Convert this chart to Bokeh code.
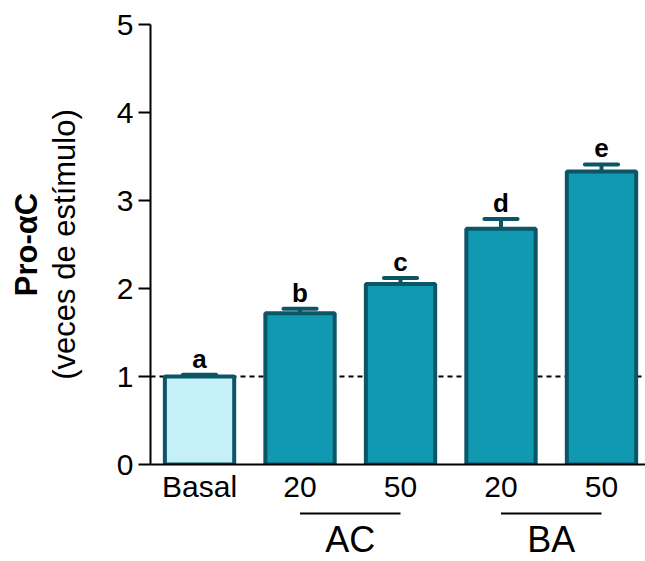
from bokeh.plotting import figure
from bokeh.models import Span, ColumnDataSource, Range1d, FixedTicker, LinearAxis
from bokeh.layouts import column
from bokeh.embed import file_html
from bokeh.resources import INLINE
from bokeh.core.properties import value

# ---- data ----
groups = ["Basal", "AC 20", "AC 50", "BA 20", "BA 50"]
tick_labels = ["Basal", "20", "50", "20", "50"]
means = [1.00, 1.72, 2.05, 2.68, 3.33]
errors = [0.02, 0.05, 0.07, 0.11, 0.08]
letters = ["a", "b", "c", "d", "e"]
fills = ["#c5f0f8", "#1199b1", "#1199b1", "#1199b1", "#1199b1"]
group_names = ["AC", "BA"]
group_starts = [2, 4]
group_ends = [3, 5]
y_ticks = [0, 1, 2, 3, 4, 5]

FONT = "Liberation Sans"
EDGE = "#0b5566"

W = 645
H_MAIN, H_LOW = 505, 56
L, R, T, B = 150, 0, 24, 40
x_range = Range1d(0.512, 5.438)
y_range = Range1d(0, 5)
fh = H_MAIN - T - B
px_per_unit = fh / (y_range.end - y_range.start)

xs = list(range(1, len(groups) + 1))
tops = [m + e for m, e in zip(means, errors)]
letter_y = [t + 16 / px_per_unit for t in tops]

src = ColumnDataSource(dict(x=xs, top=means, fill=fills, err_top=tops,
                            letter=letters, ly=letter_y))

p = figure(width=W, height=H_MAIN, output_backend="svg", toolbar_location=None,
           x_range=x_range, y_range=y_range,
           min_border_left=L, min_border_right=R, min_border_top=T, min_border_bottom=B)
p.outline_line_color = None
p.grid.visible = False

# dashed reference line at 1
p.add_layout(Span(location=1, dimension="width", line_color="black",
                  line_width=2, line_dash="5 4", level="underlay"))

p.vbar(x="x", top="top", bottom=0, width=0.69, source=src,
       fill_color="fill", line_color=EDGE, line_width=4)

# error bars
p.segment(x0="x", y0="top", x1="x", y1="err_top", source=src,
          line_color=EDGE, line_width=4)
cap_src = ColumnDataSource(dict(xa=[x - 0.165 for x in xs], xb=[x + 0.165 for x in xs], y=tops))
p.segment(x0="xa", y0="y", x1="xb", y1="y", source=cap_src,
          line_color=EDGE, line_width=4, line_cap="round")

# significance letters
p.text(x="x", y="ly", text="letter", source=src, text_align="center",
       text_baseline="alphabetic", text_font=value(FONT),
       text_font_style="bold", text_font_size="26px", text_color="black")

# x axis
p.xaxis.ticker = FixedTicker(ticks=xs)
p.xaxis.major_label_overrides = {x: t for x, t in zip(xs, tick_labels)}
p.xaxis.major_tick_line_color = None
p.xaxis.major_tick_out = 0
p.xaxis.major_tick_in = 0
p.xaxis.minor_tick_line_color = None
p.xaxis.axis_line_width = 2
p.xaxis.major_label_standoff = 5
p.xaxis.major_label_text_font = FONT
p.xaxis.major_label_text_font_size = "30px"
p.xaxis.major_label_text_color = "black"

# y axis
yax = p.yaxis[0]
yax.ticker = FixedTicker(ticks=y_ticks)
yax.major_tick_out = 12
yax.major_tick_in = 0
yax.major_tick_line_width = 2
yax.minor_tick_line_color = None
yax.axis_line_width = 2
yax.major_label_standoff = 5
yax.major_label_text_font = FONT
yax.major_label_text_font_size = "30px"
yax.major_label_text_color = "black"
yax.axis_label = "(veces de est\u00edmulo)"
yax.axis_label_text_font = FONT
yax.axis_label_text_font_style = "normal"
yax.axis_label_text_font_size = "31px"
yax.axis_label_text_color = "black"
yax.axis_label_standoff = 32

# outer y title (bold line)
yt = LinearAxis(ticker=FixedTicker(ticks=[]), axis_line_color=None,
                major_tick_line_color=None, minor_tick_line_color=None,
                major_tick_out=0, major_tick_in=0, major_label_text_font_size="0px",
                axis_label="Pro-\u03b1C", axis_label_text_font=FONT,
                axis_label_text_font_style="bold", axis_label_text_font_size="31px",
                axis_label_text_color="black", axis_label_standoff=0)
p.add_layout(yt, "left")

# ---- lower strip: group lines and names ----
q = figure(width=W, height=H_LOW, output_backend="svg", toolbar_location=None,
           x_range=x_range, y_range=Range1d(H_LOW, 0),
           min_border_left=L, min_border_right=R, min_border_top=0, min_border_bottom=0)
q.outline_line_color = None
q.grid.visible = False
q.axis.visible = False
gsrc = ColumnDataSource(dict(xa=group_starts, xb=group_ends,
                             xm=[(a + b) / 2 for a, b in zip(group_starts, group_ends)],
                             name=group_names))
q.segment(x0="xa", y0=8, x1="xb", y1=8, source=gsrc, line_color="black", line_width=2)
q.text(x="xm", y=34, text="name", source=gsrc, text_align="center",
       text_baseline="alphabetic", text_font=value(FONT), text_font_size="36px",
       text_color="black")

layout = column(p, q, spacing=0)
open("out.html", "w").write(file_html(layout, INLINE))
